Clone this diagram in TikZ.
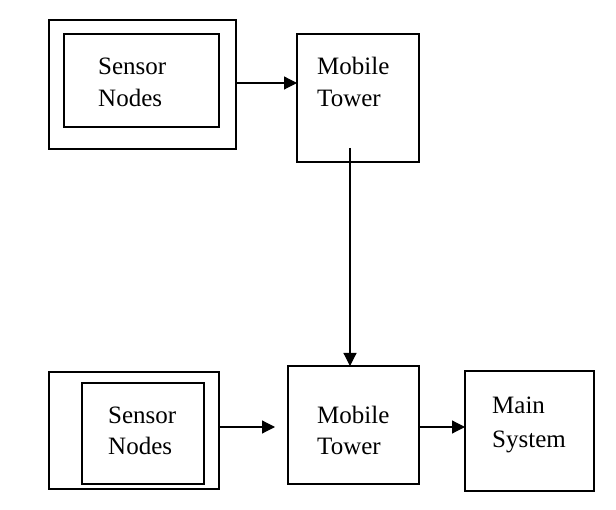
\documentclass[tikz,border=0pt]{standalone}
\usepackage{fontspec}
\setmainfont{Liberation Serif}
\usetikzlibrary{arrows.meta, positioning}

\begin{document}
\begin{tikzpicture}[
    box/.style={draw, line width=2pt, inner sep=0pt, outer sep=0pt},
    lbl/.style={anchor=base west, inner sep=0pt, align=left,
                font=\fontsize{25}{32}\selectfont},
    arr/.style={-{Triangle[length=13pt, width=13pt]}, line width=1.2pt},
    x=1pt, y=-1pt
  ]
  \useasboundingbox (0,0) rectangle (616,510);

  % upper row
  \node[box, minimum width=187, minimum height=129] (sen1o) at (142.5, 84.5) {};
  \node[box, minimum width=155, minimum height=93]  (sen1i) at (141.5, 80.5) {};
  \node[box, minimum width=122, minimum height=128] (tow1)  at (358, 98) {};
  \node[lbl] (sen1t) at (98, 107)  {Sensor\\Nodes};
  \node[lbl] (tow1t) at (317, 107) {Mobile\\Tower};

  % lower row
  \node[box, minimum width=170, minimum height=117] (sen2o) at (134, 430.5) {};
  \node[box, minimum width=122, minimum height=101] (sen2i) at (143, 433.5) {};
  \node[box, minimum width=131, minimum height=118] (tow2)  at (353.5, 425) {};
  \node[box, minimum width=129, minimum height=120] (main)  at (529.5, 431) {};
  \node[lbl] (sen2t) at (108, 455) {Sensor\\Nodes};
  \node[lbl] (tow2t) at (317, 455) {Mobile\\Tower};
  \node[lbl] (maint) at (492, 448) {Main\\[2pt]System};

  \coordinate (drop) at (350, 148);
  \coordinate (stop) at (275, 427);

  \draw[arr] (sen1o.east |- 0,83) -- (tow1.west |- 0,83);
  \draw[arr] (drop) -- (drop |- tow2.north);
  \draw[arr] (sen2o.east |- stop) -- (stop);
  \draw[arr] (tow2.east |- 0,427) -- (main.west |- 0,427);
\end{tikzpicture}
\end{document}
